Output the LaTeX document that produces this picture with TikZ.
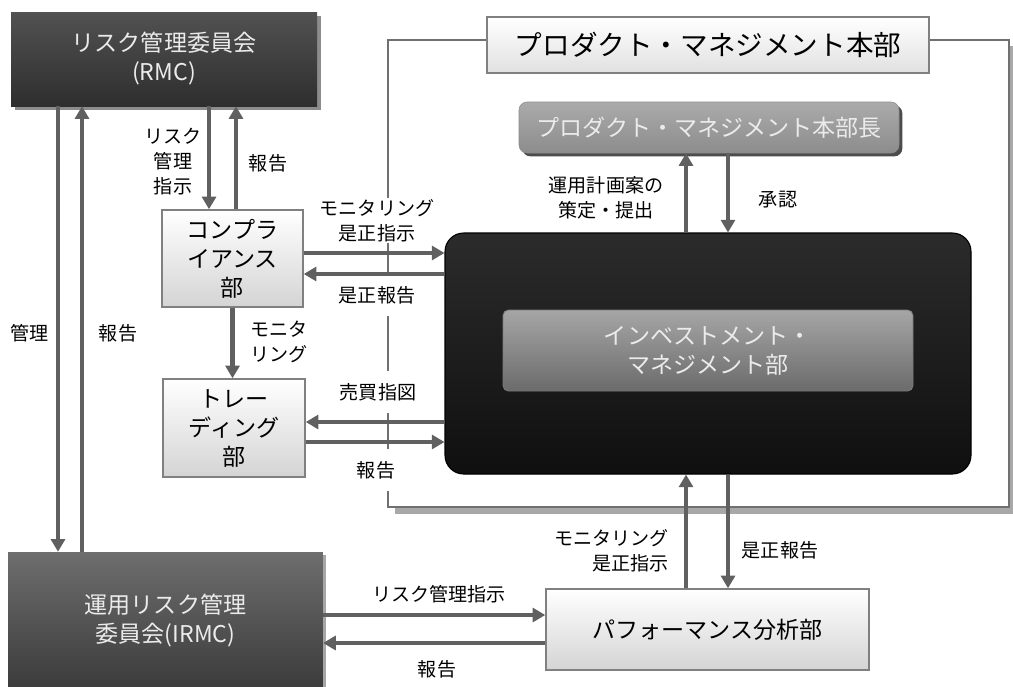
\documentclass[tikz,border=0pt]{standalone}
\usepackage{fontspec}
\setmainfont{Noto Sans CJK JP}
\usetikzlibrary{arrows.meta,shadows}
\definecolor{arrgray}{HTML}{606060}
\definecolor{framegray}{HTML}{707070}
\definecolor{shadegray}{HTML}{A8A8A8}
\definecolor{boxline}{HTML}{808080}
\definecolor{lightbot}{HTML}{D4D4D4}
\newcommand\myboxfont{\fontsize{17.3pt}{21.75pt}\selectfont}
\newcommand\mylabelfont{\fontsize{14.3pt}{18.75pt}\selectfont}
\newcommand\mytitlefont{\fontsize{20.7pt}{24pt}\selectfont}
\begin{document}
\begin{tikzpicture}[x=0.75pt,y=-0.75pt,
  arr/.style={draw=arrgray, line width=3.6pt, -{Triangle[length=9.5pt,width=10.5pt]}},
  lightbox/.style={draw=boxline, line width=1.1pt, top color=white, bottom color=lightbot, inner sep=0pt, align=center, text=black, font=\myboxfont},
  darkbox/.style={draw=none, inner sep=0pt, align=center, text=white!92!black, font=\myboxfont},
  lbl/.style={font=\mylabelfont, align=center, text=black, inner sep=1pt},
  wlbl/.style={lbl, fill=white, inner xsep=2pt, inner ysep=9pt}
]
\useasboundingbox (0,0) rectangle (1013,686);
% x / y guide coordinates
\coordinate (cx58) at (58,0);
\coordinate (cx82) at (82,0);
\coordinate (cx209) at (209,0);
\coordinate (cx236) at (236,0);
\coordinate (cx686) at (686,0);
\coordinate (cx728) at (728,0);
\coordinate (cy253) at (0,253);
\coordinate (cy274) at (0,274);
\coordinate (cy422) at (0,422);
\coordinate (cy442) at (0,442);
\coordinate (cy615) at (0,615);
\coordinate (cy643) at (0,643);

% product management frame with shadow
\draw[shadegray, line width=4.5pt] (395,511) -| (1013,46);
\draw[framegray, line width=1.1pt] (388,40) rectangle (1009,507);

% boxes
\node[darkbox, top color=black!68, bottom color=black!82,
  drop shadow={shadow xshift=3pt, shadow yshift=-3pt, fill=black!45, opacity=1},
  minimum width=229.5pt, minimum height=70.5pt] (rmc) at (164,59) {リスク管理委員会\\(RMC)};
\node[lightbox, minimum width=105.75pt, minimum height=72.75pt] (comp) at (232.5,258.5) {コンプラ\\イアンス\\部};
\node[lightbox, minimum width=106.5pt, minimum height=73.5pt] (trad) at (234,428) {トレー\\ディング\\部};
\node[darkbox, top color=black!57, bottom color=black!77,
  drop shadow={shadow xshift=2pt, shadow yshift=-2pt, fill=black!35, opacity=1},
  minimum width=236pt, minimum height=103.5pt] (irmc) at (165.5,621) {運用リスク管理\\委員会(IRMC)};
\node[lightbox, line width=0.9pt, bottom color=black!12, font=\mytitlefont,
  minimum width=331.5pt, minimum height=42pt] (title) at (708,45) {プロダクト・マネジメント本部};
\node[darkbox, rounded corners=6pt, top color=black!33, bottom color=black!45, draw=black!45,
  drop shadow={shadow xshift=2.5pt, shadow yshift=-2.5pt, fill=black!70, opacity=1},
  minimum width=285pt, minimum height=38.25pt] (head) at (709,127.5) {プロダクト・マネジメント本部長};
\node[rounded corners=14pt, top color=black!83, bottom color=black!94, draw=black, line width=0.8pt,
  minimum width=394.5pt, minimum height=180.75pt] (inv) at (708,353.5) {};
\node[darkbox, rounded corners=4pt, top color=black!35, bottom color=black!58, draw=black!52, line width=0.6pt,
  minimum width=307.5pt, minimum height=60.75pt] (innr) at (708,350.5) {インベストメント・\\マネジメント部};
\node[lightbox, minimum width=242.25pt, minimum height=60.75pt] (perf) at (707.5,629.5) {パフォーマンス分析部};

% labels
\node[lbl] (l1) at (173,162) {リスク\\管理\\指示};
\node[lbl] (l2) at (268,163) {報告};
\node[lbl] (l3) at (30,333) {管理};
\node[lbl] (l4) at (118,333) {報告};
\node[wlbl, inner ysep=1pt] (l5) at (377,220.5) {モニタリング\\是正指示};
\node[wlbl] (l6) at (377,295) {是正報告};
\node[lbl, align=left, anchor=west] (l7) at (249,341.5) {モニタ\\リング};
\node[wlbl] (l8) at (378,392) {売買指図};
\node[wlbl] (l9) at (376,470) {報告};
\node[lbl] (l10) at (606,197.5) {運用計画案の\\策定・提出};
\node[lbl] (l11) at (778,200) {承認};
\node[lbl, align=right, anchor=east] (l12) at (670,551) {モニタリング\\是正指示};
\node[lbl] (l13) at (780,550) {是正報告};
\node[lbl] (l14) at (439,594) {リスク管理指示};
\node[lbl] (l15) at (437,669) {報告};

% connectors
\draw[arr] (rmc.south -| cx58) -- (irmc.north -| cx58);
\draw[arr] (irmc.north -| cx82) -- (rmc.south -| cx82);
\draw[arr] (rmc.south -| cx209) -- (comp.north -| cx209);
\draw[arr] (comp.north -| cx236) -- (rmc.south -| cx236);
\draw[arr] (comp.east |- cy253) -- (inv.west |- cy253);
\draw[arr] (inv.west |- cy274) -- (comp.east |- cy274);
\draw[arr] (comp.south) -- (comp.south |- trad.north);
\draw[arr] (inv.west |- cy422) -- (trad.east |- cy422);
\draw[arr] (trad.east |- cy442) -- (inv.west |- cy442);
\draw[arr] (inv.north -| cx686) -- (head.south -| cx686);
\draw[arr] (head.south -| cx728) -- (inv.north -| cx728);
\draw[arr] (perf.north -| cx686) -- (inv.south -| cx686);
\draw[arr] (inv.south -| cx728) -- (perf.north -| cx728);
\draw[arr] (irmc.east |- cy615) -- (perf.west |- cy615);
\draw[arr] (perf.west |- cy643) -- (irmc.east |- cy643);
\end{tikzpicture}
\end{document}
